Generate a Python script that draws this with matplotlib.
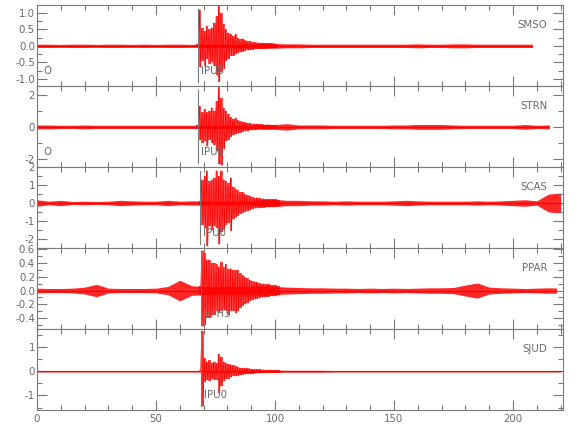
import numpy as np
import matplotlib
matplotlib.use("Agg")
import matplotlib.pyplot as plt
from matplotlib.ticker import MultipleLocator, FormatStrFormatter
from matplotlib.patches import Rectangle
import matplotlib.transforms as mtransforms
from matplotlib import font_manager

# ---------------- data ----------------
stations = ["SMSO", "STRN", "SCAS", "PPAR", "SJUD"]
pick_labels = ["IPU0", "IPU0", "IPU0", "EPH3", "IPU0"]
pick_times = [67.6, 67.6, 68.6, 69.1, 68.9]
origin_label_panels = [0, 1]
trace_end = [208, 215, 221, 218, 221]

# background noise half-amplitude, one value every 5 s from t=0 to t=220
noise_times = list(range(0, 221, 5))
noise_smso = [0.05, 0.05, 0.045, 0.05, 0.05, 0.045, 0.05, 0.05, 0.045,
              0.05, 0.045, 0.05, 0.05, 0.045, 0.05, 0.05, 0.05, 0.05,
              0.05, 0.08, 0.07, 0.06, 0.06, 0.05, 0.05, 0.05, 0.05,
              0.05, 0.05, 0.05, 0.05, 0.05, 0.06, 0.05, 0.05, 0.06,
              0.06, 0.05, 0.05, 0.05, 0.05, 0.05, 0.05, 0.05, 0.05]
noise_strn = [0.12, 0.12, 0.1, 0.1, 0.12, 0.1, 0.1, 0.1, 0.1,
              0.1, 0.1, 0.1, 0.1, 0.1, 0.1, 0.1, 0.1, 0.1,
              0.1, 0.15, 0.15, 0.2, 0.12, 0.12, 0.12, 0.1, 0.1,
              0.1, 0.1, 0.1, 0.12, 0.12, 0.15, 0.15, 0.15, 0.12,
              0.1, 0.1, 0.1, 0.1, 0.1, 0.15, 0.1, 0.12, 0.1]
noise_scas = [0.18, 0.1, 0.15, 0.08, 0.1, 0.08, 0.1, 0.15, 0.12,
              0.1, 0.1, 0.15, 0.1, 0.12, 0.12, 0.1, 0.1, 0.1,
              0.1, 0.2, 0.2, 0.15, 0.15, 0.12, 0.12, 0.1, 0.12,
              0.1, 0.1, 0.1, 0.12, 0.15, 0.12, 0.1, 0.1, 0.1,
              0.1, 0.12, 0.1, 0.12, 0.15, 0.18, 0.12, 0.5, 0.55]
noise_ppar = [0.035, 0.03, 0.03, 0.035, 0.05, 0.09, 0.035, 0.03, 0.03,
              0.03, 0.035, 0.06, 0.15, 0.07, 0.06, 0.06, 0.06, 0.06,
              0.06, 0.07, 0.06, 0.05, 0.045, 0.04, 0.04, 0.035, 0.035,
              0.03, 0.035, 0.03, 0.035, 0.03, 0.035, 0.04, 0.04, 0.045,
              0.08, 0.11, 0.05, 0.04, 0.035, 0.03, 0.035, 0.04, 0.035]
noise_sjud = [0.03, 0.03, 0.03, 0.03, 0.03, 0.03, 0.03, 0.03, 0.03,
              0.03, 0.03, 0.03, 0.03, 0.03, 0.03, 0.03, 0.03, 0.03,
              0.05, 0.05, 0.05, 0.04, 0.04, 0.04, 0.04, 0.03, 0.03,
              0.03, 0.03, 0.03, 0.03, 0.03, 0.03, 0.03, 0.03, 0.03,
              0.03, 0.03, 0.03, 0.03, 0.03, 0.03, 0.03, 0.03, 0.03]

# event part: per-second peak maxima / minima, starting at event_start
event_start = [67, 67, 68, 68, 68]
hi_smso = [0.05, 1.1, 0.55, 0.45, 0.6, 0.5, 0.55, 0.7, 0.9, 1.2, 1.0, 0.65,
           0.5, 0.4, 0.35, 0.3, 0.35, 0.25, 0.2, 0.22, 0.17, 0.15, 0.14, 0.12,
           0.11, 0.1, 0.1, 0.09, 0.09, 0.08, 0.08, 0.08, 0.07, 0.07]
lo_smso = [-0.05, -0.65, -0.45, -0.6, -0.4, -0.55, -0.5, -0.6, -0.9, -1.1, -0.8, -0.7,
           -0.45, -0.4, -0.3, -0.3, -0.25, -0.22, -0.2, -0.18, -0.15, -0.14, -0.12, -0.12,
           -0.1, -0.1, -0.09, -0.09, -0.08, -0.08, -0.07, -0.07, -0.07, -0.06]
hi_strn = [0.1, 1.3, 0.9, 1.1, 0.9, 1.0, 1.2, 1.0, 1.6, 2.5, 1.8, 1.2,
           1.0, 0.8, 0.6, 0.5, 0.55, 0.4, 0.35, 0.3, 0.3, 0.25, 0.22, 0.2,
           0.2, 0.18, 0.18, 0.16, 0.15, 0.15, 0.14, 0.13, 0.12, 0.12]
lo_strn = [-0.1, -0.8, -1.0, -0.9, -1.2, -0.8, -1.0, -1.1, -1.5, -2.3, -2.4, -1.4,
           -0.9, -0.8, -0.6, -0.5, -0.45, -0.4, -0.35, -0.3, -0.25, -0.25, -0.2, -0.2,
           -0.18, -0.18, -0.16, -0.15, -0.15, -0.14, -0.13, -0.12, -0.12, -0.12]
hi_scas = [0.1, 1.3, 1.5, 1.8, 1.2, 1.3, 1.4, 1.8, 1.5, 1.8, 1.3, 1.2,
           1.1, 1.4, 0.9, 0.8, 0.7, 0.6, 0.6, 0.5, 0.45, 0.4, 0.35, 0.3,
           0.3, 0.28, 0.25, 0.25, 0.22, 0.22, 0.2, 0.2, 0.2, 0.18]
lo_scas = [-0.1, -1.2, -1.4, -2.4, -1.3, -1.5, -1.3, -1.4, -2.3, -1.6, -1.5, -1.2,
           -1.1, -1.55, -0.9, -0.8, -0.7, -0.6, -0.55, -0.5, -0.45, -0.4, -0.35, -0.3,
           -0.3, -0.28, -0.25, -0.25, -0.22, -0.22, -0.2, -0.2, -0.2, -0.18]
hi_ppar = [0.06, 0.58, 0.55, 0.45, 0.45, 0.4, 0.4, 0.38, 0.35, 0.42, 0.35, 0.38,
           0.32, 0.32, 0.3, 0.3, 0.3, 0.25, 0.22, 0.2, 0.18, 0.15, 0.14, 0.13,
           0.12, 0.11, 0.1, 0.1, 0.09, 0.09, 0.08, 0.08, 0.08, 0.07]
lo_ppar = [-0.06, -0.52, -0.5, -0.4, -0.4, -0.35, -0.35, -0.3, -0.32, -0.3, -0.28, -0.3,
           -0.36, -0.3, -0.3, -0.33, -0.3, -0.25, -0.22, -0.2, -0.18, -0.15, -0.14, -0.13,
           -0.12, -0.11, -0.1, -0.1, -0.09, -0.09, -0.08, -0.08, -0.08, -0.07]
hi_sjud = [0.03, 1.65, 0.55, 0.4, 0.45, 0.35, 0.4, 0.35, 0.7, 0.6, 0.4, 0.35,
           0.3, 0.28, 0.25, 0.2, 0.18, 0.15, 0.14, 0.13, 0.12, 0.11, 0.1, 0.09,
           0.08, 0.08, 0.07, 0.07, 0.06, 0.06, 0.06, 0.05, 0.05, 0.05]
lo_sjud = [-0.03, -1.45, -0.45, -0.35, -0.4, -0.3, -0.35, -0.35, -0.9, -0.6, -0.4, -0.3,
           -0.3, -0.25, -0.2, -0.2, -0.18, -0.15, -0.14, -0.13, -0.12, -0.11, -0.1, -0.09,
           -0.08, -0.08, -0.07, -0.07, -0.06, -0.06, -0.06, -0.05, -0.05, -0.05]

noise_all = [noise_smso, noise_strn, noise_scas, noise_ppar, noise_sjud]
hi_all = [hi_smso, hi_strn, hi_scas, hi_ppar, hi_sjud]
lo_all = [lo_smso, lo_strn, lo_scas, lo_ppar, lo_sjud]

# axes settings
y_limits = [(-1.22, 1.24), (-2.5, 2.55), (-2.5, 2.0), (-0.56, 0.62), (-1.6, 1.75)]
y_major = [0.5, 2, 1, 0.2, 1]
y_minor = [0.25, 1, 0.5, 0.1, 0.5]
y_fmt = ["%.1f", "%d", "%d", "%.1f", "%d"]
x_limits = (0, 221)
x_ticks = [0, 50, 100, 150, 200]

# ---------------- drawing ----------------
FP = font_manager.FontProperties(family="DejaVu Sans", stretch="condensed", size=8.2)
GRAY = "#7a7a7a"
TXT = "#6a6a6a"
RED = "#ff0000"

fig = plt.figure(figsize=(5.8, 4.4), dpi=100)
axes = fig.subplots(5, 1, sharex=True)
fig.subplots_adjust(left=0.0638, right=0.9707, bottom=0.0682, top=0.9886, hspace=0)

for i, ax in enumerate(axes):
    ax.set_xlim(*x_limits)
    ax.set_ylim(*y_limits[i])
    nt = np.array(noise_times, dtype=float)
    na = np.array(noise_all[i])
    clip = Rectangle((x_limits[0], -100), trace_end[i] - x_limits[0], 200,
                     transform=ax.transData, fill=False)
    band = ax.fill_between(nt, -na, na, color=RED, alpha=0.85, lw=0)
    band.set_clip_path(clip)
    base, = ax.plot(nt, np.zeros_like(nt), color=RED, lw=0.8)
    base.set_clip_path(clip)

    hi = np.array(hi_all[i])
    lo = np.array(lo_all[i])
    te = event_start[i] + np.arange(len(hi))
    ax.fill_between(np.r_[te, te[-1] + 1], np.r_[lo, lo[-1]], np.r_[hi, hi[-1]],
                    step="post", color=RED, alpha=0.7, lw=0)
    zx = np.column_stack([te + 0.25, te + 0.75]).ravel()
    zy = np.column_stack([hi, lo]).ravel()
    ax.plot(zx, zy, color=RED, lw=0.5)

    # pick line and labels (drawn above the trace)
    ax.axvline(pick_times[i], ymin=0.05, ymax=0.95, color=GRAY, lw=0.8, zorder=4)
    btr = mtransforms.blended_transform_factory(ax.transData, ax.transAxes)
    ax.text(pick_times[i] + 1.2, 0.185, pick_labels[i], transform=btr,
            ha="left", va="center", color=TXT, fontproperties=FP, zorder=5)
    if i in origin_label_panels:
        ax.text(2.5, 0.185, "O", transform=btr, ha="left", va="center",
                color=TXT, fontproperties=FP, zorder=5)
    ax.text(214.5, 0.75, stations[i], transform=btr, ha="right", va="center",
            color=TXT, fontproperties=FP, zorder=5)

    # axis styling
    for sp in ax.spines.values():
        sp.set_color(GRAY)
        sp.set_linewidth(0.8)
    ax.yaxis.set_major_locator(MultipleLocator(y_major[i]))
    ax.yaxis.set_minor_locator(MultipleLocator(y_minor[i]))
    ax.yaxis.set_major_formatter(FormatStrFormatter(y_fmt[i]))
    ax.xaxis.set_major_locator(MultipleLocator(50))
    ax.xaxis.set_minor_locator(MultipleLocator(10))
    ax.tick_params(which="both", direction="in", top=True, right=True,
                   color=GRAY, labelcolor=TXT, pad=1.5)
    ax.tick_params(which="major", length=7, width=0.8)
    ax.tick_params(which="minor", length=3.5, width=0.8)
    for lab in ax.get_yticklabels():
        lab.set_fontproperties(FP)

axes[-1].set_xticks(x_ticks)
axes[-1].tick_params(axis="x", pad=3)
for lab in axes[-1].get_xticklabels():
    lab.set_fontproperties(FP)

fig.savefig("out.png", dpi=100)
